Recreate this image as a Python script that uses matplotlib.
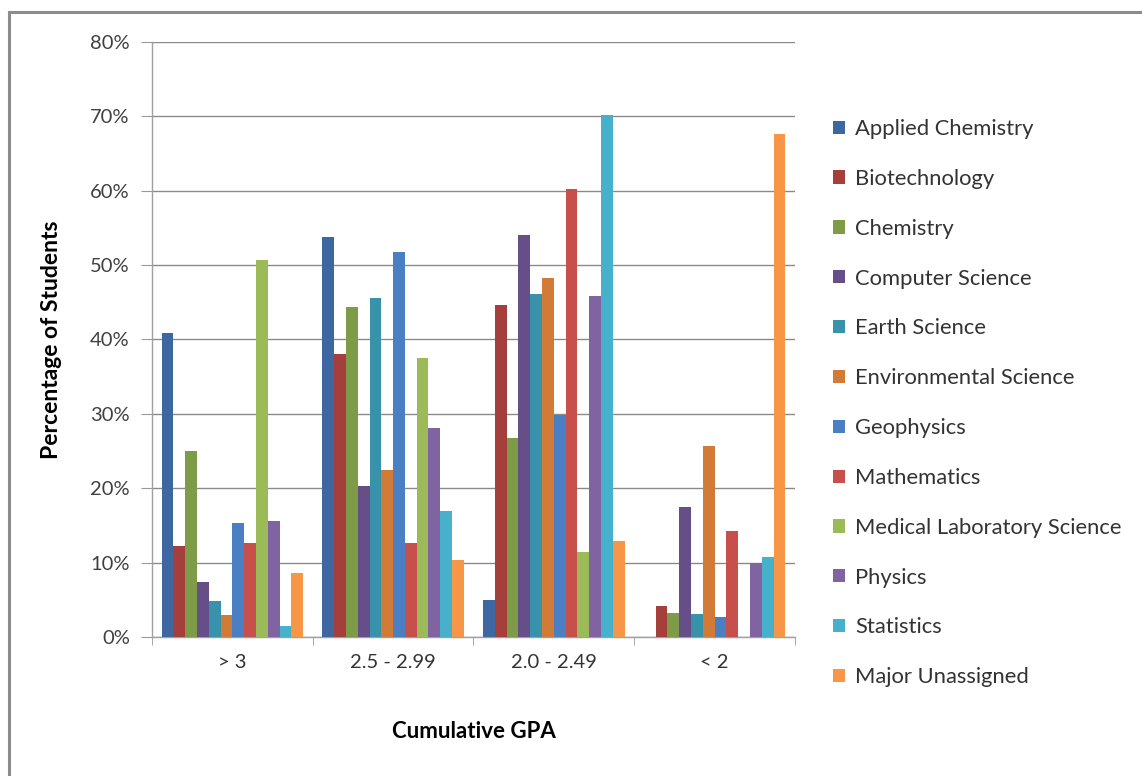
import matplotlib
matplotlib.use("Agg")
import matplotlib.pyplot as plt
import matplotlib.ticker as mticker
from matplotlib.lines import Line2D
import numpy as np

plt.rcParams.update({
    "font.family": ["Lato", "DejaVu Sans"],
    "font.size": 14,
})

gpa_bands = ["> 3", "2.5 - 2.99", "2.0 - 2.49", "< 2"]

majors = [
    "Applied Chemistry", "Biotechnology", "Chemistry", "Computer Science",
    "Earth Science", "Environmental Science", "Geophysics", "Mathematics",
    "Medical Laboratory Science", "Physics", "Statistics", "Major Unassigned",
]

# share of students in each GPA band (fractions), one list per major
applied_chemistry   = [0.409, 0.538, 0.050, 0.000]
biotechnology       = [0.122, 0.381, 0.447, 0.042]
chemistry           = [0.250, 0.444, 0.267, 0.032]
computer_science    = [0.074, 0.203, 0.541, 0.175]
earth_science       = [0.048, 0.456, 0.461, 0.031]
environmental_sci   = [0.030, 0.225, 0.483, 0.257]
geophysics          = [0.153, 0.518, 0.299, 0.027]
mathematics         = [0.126, 0.126, 0.603, 0.142]
medical_lab_science = [0.507, 0.375, 0.114, 0.000]
physics             = [0.156, 0.281, 0.459, 0.099]
statistics          = [0.015, 0.170, 0.702, 0.108]
major_unassigned    = [0.086, 0.104, 0.129, 0.676]

series = [
    applied_chemistry, biotechnology, chemistry, computer_science,
    earth_science, environmental_sci, geophysics, mathematics,
    medical_lab_science, physics, statistics, major_unassigned,
]

colors = [
    "#3E67A2", "#A43F3C", "#7E9B47", "#664E88", "#3893AA", "#D27B36",
    "#4A7FC4", "#C8504C", "#9BBB59", "#8064A2", "#47B0CB", "#F79646",
]

fig = plt.figure(figsize=(11.42, 7.76), dpi=100, facecolor="white")
ax = fig.add_axes([0.1331, 0.1791, 0.5630, 0.7668])

n = len(series)
group_w = 0.88
bar_w = group_w / n
x = np.arange(len(gpa_bands))
for i, (vals, name, col) in enumerate(zip(series, majors, colors)):
    offs = -group_w / 2 + bar_w * (i + 0.5)
    ax.bar(x + offs, vals, bar_w, color=col, label=name, linewidth=0, zorder=3)

ax.set_xlim(-0.5, len(gpa_bands) - 0.5)
ax.set_ylim(0, 0.8)
ax.yaxis.set_major_locator(mticker.MultipleLocator(0.1))
ax.yaxis.set_major_formatter(mticker.FuncFormatter(lambda v, _: f"{v * 100:.0f}%"))
ax.yaxis.grid(True, color="#8a8a8a", linewidth=1.0, zorder=0)

ax.set_xticks(x)
ax.set_xticklabels(gpa_bands)
ax.set_xticks(np.arange(len(gpa_bands) + 1) - 0.5, minor=True)
ax.tick_params(axis="x", which="major", length=0, pad=12, labelsize=14.5, labelcolor="#333333")
ax.tick_params(axis="x", which="minor", length=6, color="#999999", direction="out")
ax.tick_params(axis="y", length=8, color="#999999", pad=8, labelsize=14.5, labelcolor="#404040")

for side in ("top", "right"):
    ax.spines[side].set_visible(False)
for side in ("left", "bottom"):
    ax.spines[side].set_color("#a0a0a0")
    ax.spines[side].set_linewidth(1.0)

ax.set_xlabel("Cumulative GPA", fontsize=16, fontweight="bold", labelpad=36)
ax.set_ylabel("Percentage of Students", fontsize=16.5, fontweight="bold", labelpad=20)

fig.legend(
    loc="upper left", bbox_to_anchor=(0.722, 0.858), frameon=False,
    fontsize=15.8, handlelength=0.55, handleheight=0.55, handletextpad=0.45,
    labelspacing=1.36, borderaxespad=0, labelcolor="#333333",
)

# chart frame: top and left edges only
fig.add_artist(Line2D([0.008, 1.0], [0.985, 0.985], color="#8c8c8c", linewidth=2.2))
fig.add_artist(Line2D([0.008, 0.008], [0.0, 0.985], color="#8c8c8c", linewidth=2.2))

fig.savefig("out.png", dpi=100, facecolor="white")
